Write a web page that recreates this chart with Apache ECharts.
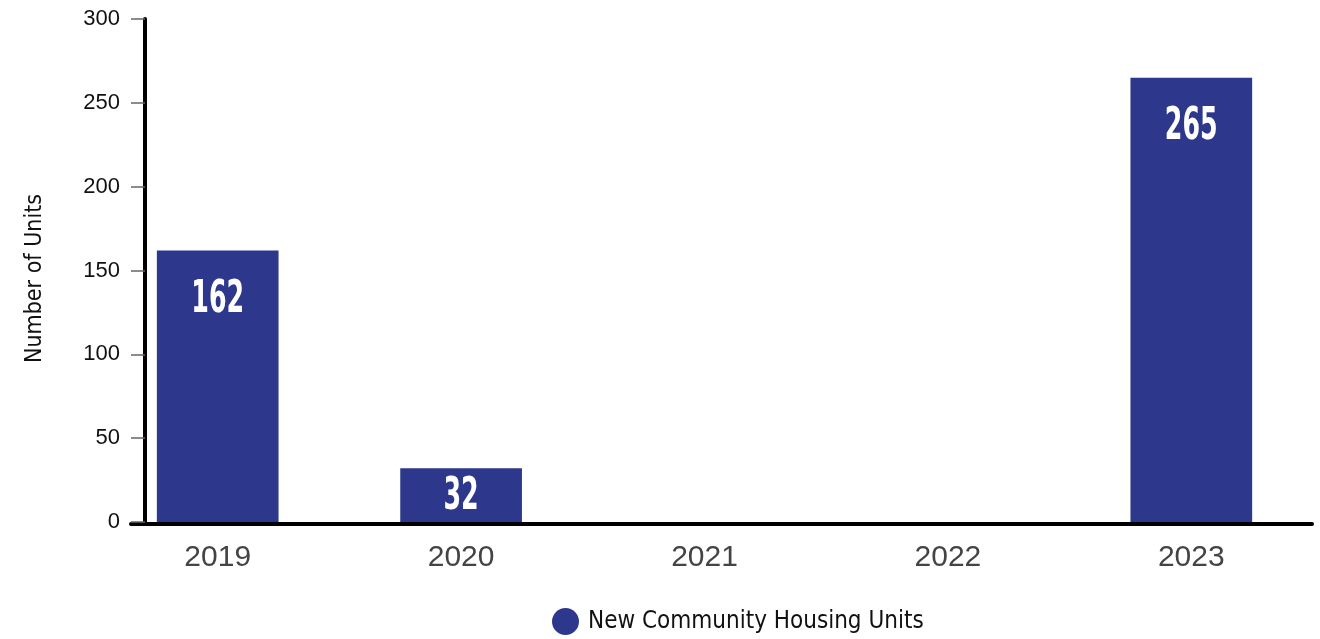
<!DOCTYPE html>
<html>
<head>
<meta charset="utf-8">
<script src="https://cdn.jsdelivr.net/npm/echarts@6/dist/echarts.min.js"></script>
<style>html,body{margin:0;padding:0;background:#fff}#c{width:1320px;height:639px}</style>
</head>
<body>
<div id="c"></div>
<script>
const years = ['2019', '2020', '2021', '2022', '2023'];
const units = [162, 32, 0, 0, 265];
const seriesName = 'New Community Housing Units';
const yTitle = 'Number of Units';

const narrow = "'Liberation Sans Narrow', 'DejaVu Sans Condensed', 'Arial Narrow', sans-serif";
const barColor = '#2D388C';
const chart = echarts.init(document.getElementById('c'));
chart.setOption({
  animation: false,
  grid: [
    { left: 96, right: 7, top: 19, bottom: 117 },
    { left: 131, right: 8, top: 19, bottom: 115 }
  ],
  legend: {
    data: [{ name: seriesName, icon: 'circle' }],
    top: 603,
    left: 547,
    itemWidth: 27,
    itemHeight: 27,
    textStyle: { fontFamily: narrow, fontSize: 24, color: '#111', padding: [0, 0, 0, 4] }
  },
  xAxis: [
    {
      type: 'category', gridIndex: 0, data: years,
      axisLine: { show: false }, axisTick: { show: false },
      axisLabel: { fontFamily: "'Liberation Sans', Arial, sans-serif", fontSize: 30, color: '#444', margin: 21 }
    },
    {
      type: 'value', gridIndex: 1, min: 0, max: 1,
      axisLine: { show: true, lineStyle: { color: '#000', width: 4 } },
      axisTick: { show: false }, axisLabel: { show: false }, splitLine: { show: false }
    }
  ],
  yAxis: [
    {
      type: 'value', gridIndex: 0, min: 0, max: 300, interval: 50, offset: -49,
      name: yTitle, nameLocation: 'middle', nameRotate: 90, nameGap: 98,
      nameTextStyle: { fontFamily: narrow, fontSize: 23, color: '#111', padding: [0, 16, 0, 0] },
      axisLine: { show: true, lineStyle: { color: '#000', width: 4 } },
      axisTick: { show: true, length: 14, lineStyle: { color: '#666', width: 1.5 } },
      axisLabel: { fontFamily: "'Liberation Sans', Arial, sans-serif", fontSize: 22, color: '#111', margin: 25 },
      splitLine: { show: false }
    },
    {
      type: 'value', gridIndex: 1, min: 0, max: 1, show: false
    }
  ],
  series: [{
    name: seriesName,
    type: 'custom',
    xAxisIndex: 0, yAxisIndex: 0,
    data: units.map((v, i) => [i, v]),
    encode: { x: 0, y: 1 },
    itemStyle: { color: barColor },
    renderItem: function (params, api) {
      const idx = api.value(0), v = api.value(1);
      const base = api.coord([idx, 0]);
      const top = api.coord([idx, v]);
      const w = api.size([1, 0])[0] * 0.5;
      const h = base[1] - top[1];
      const children = [{
        type: 'rect',
        shape: { x: base[0] - w / 2, y: top[1], width: w, height: h },
        style: { fill: barColor }
      }];
      if (v) {
        const off = Math.min(28, (h - 32) / 2 - 4);
        children.push({
          type: 'text',
          x: base[0], y: top[1] + off,
          scaleX: 0.64,
          style: {
            text: String(v), fill: '#fff', fontFamily: narrow, fontWeight: 'bold',
            fontSize: 44, align: 'center', verticalAlign: 'top'
          }
        });
      }
      return { type: 'group', children: children };
    }
  }]
});
</script>
</body>
</html>
